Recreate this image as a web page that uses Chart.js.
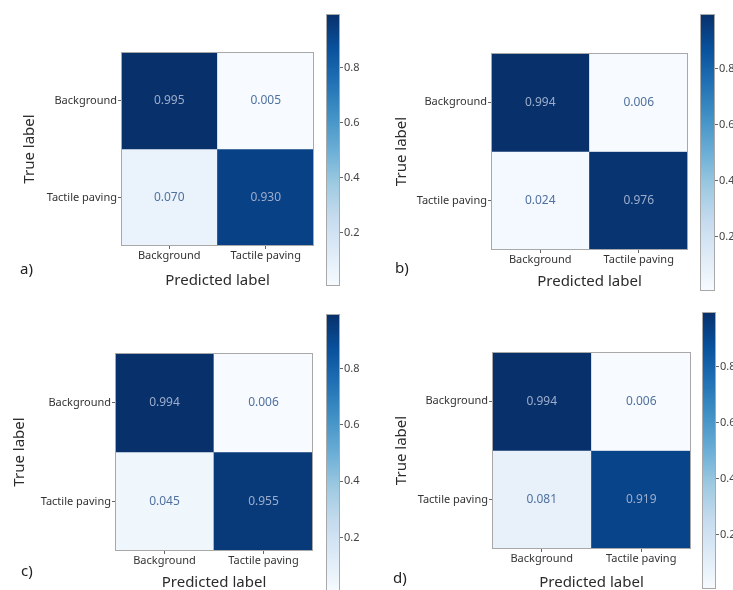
<!DOCTYPE html>
<html lang="en">
<head>
  <meta charset="UTF-8">
  <title>Confusion matrices</title>
  <script src="https://cdn.jsdelivr.net/npm/chart.js"></script>
  <style>
    body { margin: 0; background: #fff; width: 733px; height: 590px; overflow: hidden; position: relative; font-family: "Noto Sans", sans-serif; }
    canvas { position: absolute; }
    .tag { position: absolute; font-size: 15px; line-height: 15px; color: #222; }
  </style>
</head>
<body>
<script>
  // data
  const predLabels = ['Background', 'Tactile paving'];
  const trueLabels = ['Background', 'Tactile paving'];
  const matrixA = [[0.995, 0.005], [0.070, 0.930]];
  const matrixB = [[0.994, 0.006], [0.024, 0.976]];
  const matrixC = [[0.994, 0.006], [0.045, 0.955]];
  const matrixD = [[0.994, 0.006], [0.081, 0.919]];
  const colorbarTicks = [0.2, 0.4, 0.6, 0.8];
  const panelTags = ['a)', 'b)', 'c)', 'd)'];

  // placement of each panel (pixels on the page)
  const panels = [
    { m: matrixA, left: 0,   top: 0,   bottom: 300, mx0: 121, mx1: 314, my0: 52,  my1: 246, cx0: 326, cx1: 340, cy0: 14,  cy1: 286, yTitleX: 30, xTitleY: 281, tagX: 20,  tagY: 261 },
    { m: matrixB, left: 370, top: 0,   bottom: 300, mx0: 491, mx1: 688, my0: 53,  my1: 250, cx0: 700, cx1: 715, cy0: 14,  cy1: 291, yTitleX: 32, xTitleY: 282, tagX: 395, tagY: 260 },
    { m: matrixC, left: 0,   top: 300, bottom: 600, mx0: 115, mx1: 313, my0: 353, my1: 551, cx0: 326, cx1: 340, cy0: 314, cy1: 592, yTitleX: 20, xTitleY: 583, tagX: 21,  tagY: 563 },
    { m: matrixD, left: 370, top: 300, bottom: 600, mx0: 492, mx1: 691, my0: 352, my1: 549, cx0: 702, cx1: 716, cy0: 312, cy1: 589, yTitleX: 32, xTitleY: 583, tagX: 393, tagY: 570 }
  ];

  // matplotlib "Blues"
  const bluesStops = ['#f7fbff', '#deebf7', '#c6dbef', '#9ecae1', '#6baed6', '#4292c6', '#2171b5', '#08519c', '#08306b'];

  function hexToRgb(h) {
    return [1, 3, 5].map(i => parseInt(h.substr(i, 2), 16));
  }

  function blues(t) {
    t = Math.max(0, Math.min(1, t));
    const pos = t * (bluesStops.length - 1);
    const i = Math.min(Math.floor(pos), bluesStops.length - 2);
    const f = pos - i;
    const a = hexToRgb(bluesStops[i]);
    const b = hexToRgb(bluesStops[i + 1]);
    const c = a.map((v, k) => Math.round(v + (b[k] - v) * f));
    return `rgb(${c[0]}, ${c[1]}, ${c[2]})`;
  }

  const tickFont = { family: 'Noto Sans', size: 11 };
  const titleFont = { family: 'Noto Sans', size: 15, lineHeight: 1.2 };

  // frame round the plot area
  const framePlugin = {
    id: 'frame',
    afterDatasetsDraw(chart) {
      const { ctx, chartArea: a } = chart;
      ctx.save();
      ctx.strokeStyle = '#a8a8a8';
      ctx.lineWidth = 1;
      ctx.strokeRect(a.left + 0.5, a.top + 0.5, a.width - 1, a.height - 1);
      ctx.restore();
    }
  };

  // values written in the cells
  const cellTextPlugin = {
    id: 'cellText',
    afterDatasetsDraw(chart) {
      const { ctx } = chart;
      const range = chart.options.plugins.cellText;
      ctx.save();
      ctx.font = '12px "Noto Sans"';
      ctx.textAlign = 'center';
      ctx.textBaseline = 'middle';
      chart.data.datasets.forEach((ds, r) => {
        chart.getDatasetMeta(r).data.forEach((el, c) => {
          const v = ds.values[c];
          const t = (v - range.vmin) / (range.vmax - range.vmin);
          ctx.fillStyle = t > 0.5 ? '#9cadcc' : '#50709f';
          ctx.fillText(v.toFixed(3), el.x, (el.y + el.base) / 2);
        });
      });
      ctx.restore();
    }
  };

  function addCanvas(left, top, w, h) {
    const cv = document.createElement('canvas');
    cv.width = w;
    cv.height = h;
    cv.style.left = left + 'px';
    cv.style.top = top + 'px';
    document.body.appendChild(cv);
    return cv;
  }

  function drawMatrix(p) {
    const flat = p.m.flat();
    const vmin = Math.min(...flat);
    const vmax = Math.max(...flat);
    const w = p.mx1 - p.left;
    const h = p.bottom - p.top;
    const yWidth = p.mx0 - p.left;
    const xHeight = p.bottom - p.my1;
    const lh = titleFont.size * titleFont.lineHeight;

    new Chart(addCanvas(p.left, p.top, w, h), {
      type: 'bar',
      data: {
        labels: predLabels,
        datasets: trueLabels.map((name, r) => ({
          label: name,
          data: p.m[r].map(() => [r - 0.5, r + 0.5]),
          values: p.m[r],
          backgroundColor: p.m[r].map(v => blues((v - vmin) / (vmax - vmin))),
          borderWidth: 0,
          barPercentage: 1,
          categoryPercentage: 1,
          grouped: false
        }))
      },
      options: {
        responsive: false,
        animation: false,
        layout: { padding: { top: p.my0 - p.top, left: 0, right: 0, bottom: 0 } },
        plugins: {
          legend: { display: false },
          tooltip: { enabled: false },
          cellText: { vmin, vmax }
        },
        scales: {
          x: {
            grid: { display: true, offset: false, drawOnChartArea: false, tickLength: 3, color: '#666' },
            border: { display: false },
            ticks: { font: tickFont, color: '#333', padding: 0, maxRotation: 0, autoSkip: false },
            title: {
              display: true, text: 'Predicted label', font: titleFont, color: '#2b2b2b',
              padding: { top: 0, bottom: p.bottom - p.xTitleY - lh / 2 }
            },
            afterFit: s => { s.height = xHeight; }
          },
          y: {
            type: 'linear',
            min: -0.5,
            max: 1.5,
            reverse: true,
            afterBuildTicks: s => { s.ticks = trueLabels.map((_, i) => ({ value: i })); },
            grid: { display: true, drawOnChartArea: false, tickLength: 3, color: '#666' },
            border: { display: false },
            ticks: { font: tickFont, color: '#333', padding: 1, callback: v => trueLabels[v] },
            title: {
              display: true, text: 'True label', font: titleFont, color: '#2b2b2b',
              padding: { top: p.yTitleX - lh / 2, bottom: 0 }
            },
            afterFit: s => { s.width = yWidth; }
          }
        }
      },
      plugins: [framePlugin, cellTextPlugin]
    });
  }

  function drawColorbar(p) {
    const flat = p.m.flat();
    const vmin = Math.min(...flat);
    const vmax = Math.max(...flat);
    const axisWidth = 32;
    const w = p.cx1 - p.cx0 + axisWidth;
    const h = p.bottom + 20 - p.top;

    new Chart(addCanvas(p.cx0, p.top, w, h), {
      type: 'bar',
      data: {
        labels: ['scale'],
        datasets: [{
          data: [[vmin, vmax]],
          backgroundColor: ctx => {
            const a = ctx.chart.chartArea;
            if (!a) return bluesStops[4];
            const g = ctx.chart.ctx.createLinearGradient(0, a.bottom, 0, a.top);
            bluesStops.forEach((c, i) => g.addColorStop(i / (bluesStops.length - 1), c));
            return g;
          },
          borderWidth: 0,
          barPercentage: 1,
          categoryPercentage: 1
        }]
      },
      options: {
        responsive: false,
        animation: false,
        layout: { padding: { top: p.cy0 - p.top, bottom: h - (p.cy1 - p.top), left: 0, right: 0 } },
        plugins: { legend: { display: false }, tooltip: { enabled: false } },
        scales: {
          x: { display: false },
          y: {
            position: 'right',
            min: vmin,
            max: vmax,
            afterBuildTicks: s => { s.ticks = colorbarTicks.map(v => ({ value: v })); },
            grid: { display: true, drawOnChartArea: false, tickLength: 3, color: '#666' },
            border: { display: false },
            ticks: { font: tickFont, color: '#444', padding: 1, callback: v => v.toFixed(1) },
            afterFit: s => { s.width = axisWidth; }
          }
        }
      },
      plugins: [framePlugin]
    });
  }

  document.addEventListener('DOMContentLoaded', () => {
    panels.forEach((p, i) => {
      drawMatrix(p);
      drawColorbar(p);
      const tag = document.createElement('div');
      tag.className = 'tag';
      tag.textContent = panelTags[i];
      tag.style.left = p.tagX + 'px';
      tag.style.top = p.tagY + 'px';
      document.body.appendChild(tag);
    });
  });
</script>
</body>
</html>
